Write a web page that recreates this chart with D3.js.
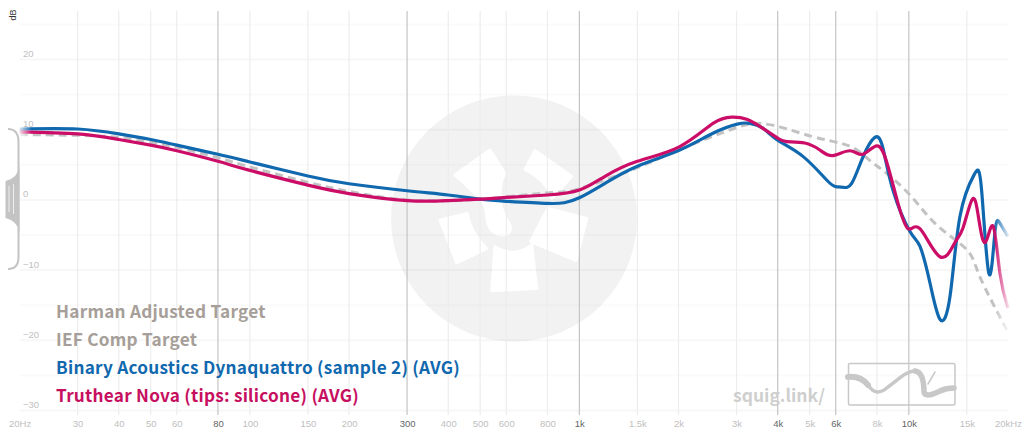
<!DOCTYPE html>
<html>
<head>
<meta charset="utf-8">
<script src="https://cdn.jsdelivr.net/npm/d3@7/dist/d3.min.js"></script>
<style>
  html, body { margin: 0; padding: 0; background: #fff; }
  svg { display: block; }
  text { font-family: "Liberation Sans", sans-serif; }
</style>
</head>
<body>
<div id="graph"></div>
<script>
// tick lists
var freqTicks = [20, 30, 40, 50, 60, 80, 100, 150, 200, 300, 400, 500, 600, 800, 1000, 1500, 2000, 3000, 4000, 5000, 6000, 8000, 10000, 15000, 20000];
var freqLabels = ['20Hz', '30', '40', '50', '60', '80', '100', '150', '200', '300', '400', '500', '600', '800', '1k', '1.5k', '2k', '3k', '4k', '5k', '6k', '8k', '10k', '15k', '20kHz'];
var strongFreqs = [80, 300, 1000, 4000, 6000, 10000];
var dbLabelTicks = [20, 10, 0, -10, -20, -30];
var dbGridTicks = [25, 20, 15, 10, 5, 0, -5, -10, -15, -20, -25, -30];

// legend
var legendNames = ['Harman Adjusted Target', 'IEF Comp Target', 'Binary Acoustics Dynaquattro (sample 2) (AVG)', 'Truthear Nova (tips: silicone) (AVG)'];
var legendColors = ['#a69e98', '#a69e98', '#1068af', '#c70f60'];

// curves
var targetFreq = [20, 30, 40, 50, 60, 80, 100, 150, 200, 300, 500, 800, 1000, 1500, 2000, 3000, 3530, 4060, 5120, 6180, 6960, 7620, 8343, 10079, 12170, 15000, 16450, 20000];
var targetDb = [9.3, 9.2, 8.9, 8.2, 7.5, 6.0, 4.7, 2.5, 1.2, 0.0, 0.1, 1.0, 1.6, 4.6, 7.1, 10.3, 10.9, 10.4, 9.0, 8.1, 7.1, 5.6, 4.2, 0.7, -3.6, -7.1, -11.0, -18.8];

var blueFreq = [20, 30, 40, 50, 60, 80, 100, 150, 200, 300, 400, 500, 600, 800, 900, 1000, 1200, 1500, 2017, 2544, 3014, 3294, 3608, 4000, 4770, 5640, 6000, 6304, 6716, 7255, 7889, 8343, 8949, 10079, 10805, 11590, 12430, 13330, 14290, 15790, 16630, 17500, 18250, 18900, 20000];
var blueDb = [10.1, 10.1, 9.4, 8.6, 7.8, 6.5, 5.4, 3.4, 2.3, 1.3, 0.7, 0.1, -0.2, -0.5, -0.4, 0.3, 2.4, 4.8, 7.1, 9.5, 10.8, 10.9, 10.2, 8.5, 6.2, 2.8, 1.9, 1.8, 2.4, 6.1, 8.9, 7.4, 1.4, -4.5, -6.6, -11.8, -17.0, -13.8, -2.4, 3.6, 1.4, -10.5, -4.7, -3.3, -5.2];

var pinkFreq = [20, 30, 40, 50, 60, 80, 100, 150, 200, 300, 400, 500, 600, 800, 1000, 1200, 1500, 2017, 2544, 2900, 3220, 3608, 4000, 4260, 4830, 5370, 5880, 6620, 7255, 8000, 8580, 9210, 9940, 10805, 12430, 13790, 14600, 15540, 16200, 17020, 18000, 18900, 20000];
var pinkDb = [9.7, 9.4, 8.6, 7.8, 7.0, 5.5, 4.2, 2.1, 0.9, -0.1, -0.1, 0.1, 0.35, 0.7, 1.4, 3.4, 5.5, 7.6, 10.9, 11.8, 11.5, 10.2, 8.8, 8.3, 8.1, 7.1, 6.3, 7.0, 6.5, 7.7, 5.3, 0.0, -4.1, -4.1, -8.1, -6.1, -4.0, 0.0, -1.9, -6.1, -3.7, -10.4, -15.4];

var width = 1028, height = 435;
var x = d3.scaleLog().domain([20, 20000]).range([19.6, 1008]);
var y = d3.scaleLinear().domain([-30, 20]).range([410.5, 59.5]);

var svg = d3.select('#graph').append('svg')
  .attr('width', width)
  .attr('height', height)
  .attr('viewBox', '0 0 ' + width + ' ' + height);

var defs = svg.append('defs');

// watermark circle goes under the grid
var wm = svg.append('g').attr('class', 'watermark').attr('transform', 'translate(514,218.5)');
wm.append('circle').attr('r', 123).attr('fill', '#f2f2f2');
var blades = [
  'M-59,-43.5 L-24,-68.5 L-9,-45 Q-14,-38 -14,-22 Q-14,-8 -4,6.5 Q-2,16 -11,16.5 Q-24,16 -27,1.5 Q-27,-10 -32,-18.5 Z',
  'M11,-49 L21,-68 L57.7,-42 L37.7,-20 Q33,-38 11,-49 Z',
  'M34,-10 L72.7,0 L62,42 L16.7,23 Q24,8 34,-10 Z',
  'M-19,28.3 Q0,40 17.7,26.7 L22.7,70 L-22.3,72.3 Z',
  'M-74,1.7 L-46.7,-5 Q-44,14 -27.3,30 L-57.3,44.3 Z'
];
wm.selectAll('path.blade').data(blades).enter().append('path')
  .attr('class', 'blade')
  .attr('d', d => d)
  .attr('fill', '#fff')
  .attr('stroke', '#fff')
  .attr('stroke-width', 3)
  .attr('stroke-linejoin', 'round');

// horizontal grid
svg.append('g').attr('class', 'grid-h')
  .selectAll('line').data(dbGridTicks).enter().append('line')
  .attr('x1', x(20)).attr('x2', x(20000))
  .attr('y1', d => y(d)).attr('y2', d => y(d))
  .attr('stroke', '#000')
  .attr('stroke-opacity', d => d % 10 === 0 ? 0.03 : 0.018)
  .attr('stroke-width', 2);

// vertical grid
var gridTop = 11, gridBottom = 415;
svg.append('g').attr('class', 'grid-v')
  .selectAll('line').data(freqTicks.slice(1, -1)).enter().append('line')
  .attr('x1', d => x(d)).attr('x2', d => x(d))
  .attr('y1', gridTop).attr('y2', gridBottom)
  .attr('stroke', d => strongFreqs.indexOf(d) >= 0 ? '#c4c4c4' : '#ededed')
  .attr('stroke-width', 1.2);

// axes
var xAxis = d3.axisBottom(x)
  .tickValues(freqTicks)
  .tickSize(0)
  .tickFormat((d, i) => freqLabels[i]);
var gx = svg.append('g').attr('transform', 'translate(0,417)').call(xAxis);
gx.select('.domain').remove();
gx.selectAll('text')
  .attr('font-size', 9.5)
  .style('font-family', '"Liberation Sans", sans-serif')
  .attr('fill', d => strongFreqs.indexOf(d) >= 0 ? '#666' : '#c0c0c0');

var yAxis = d3.axisLeft(y)
  .tickValues(dbLabelTicks)
  .tickSize(0)
  .tickFormat(d => d < 0 ? '\u2212' + Math.abs(d) : d);
var gy = svg.append('g').call(yAxis);
gy.select('.domain').remove();
gy.selectAll('text')
  .attr('text-anchor', 'start')
  .attr('x', 23)
  .attr('dy', '-3')
  .attr('font-size', 9.5)
  .style('font-family', '"Liberation Sans", sans-serif')
  .attr('fill', '#c0c0c0');

svg.append('text')
  .attr('transform', 'translate(16,15) rotate(-90)')
  .attr('text-anchor', 'middle')
  .attr('font-size', 9)
  .attr('fill', '#333')
  .text('dB');

// fade both ends of every curve
function fade(id, color) {
  var g = defs.append('linearGradient').attr('id', id)
    .attr('gradientUnits', 'userSpaceOnUse')
    .attr('x1', x(20)).attr('x2', x(20000)).attr('y1', 0).attr('y2', 0);
  var w = x(20000) - x(20);
  [[0, 0.15], [12 / w, 1], [1 - 14 / w, 1], [1, 0.15]].forEach(s => {
    g.append('stop').attr('offset', s[0]).attr('stop-color', color).attr('stop-opacity', s[1]);
  });
}
fade('fadeTarget', '#c2c2c2');
fade('fadeBlue', '#1068af');
fade('fadePink', '#cb0d68');

var line = d3.line().curve(d3.curveNatural);
function curve(freqs, dbs) {
  return line(freqs.map((f, i) => [x(f), y(dbs[i])]));
}

var curves = svg.append('g').attr('class', 'curves').attr('fill', 'none');
curves.append('path')
  .attr('d', curve(targetFreq, targetDb))
  .attr('stroke', 'url(#fadeTarget)')
  .attr('stroke-width', 3)
  .attr('stroke-dasharray', '8 5');
curves.append('path')
  .attr('d', curve(blueFreq, blueDb))
  .attr('stroke', 'url(#fadeBlue)')
  .attr('stroke-width', 3.2);
curves.append('path')
  .attr('d', curve(pinkFreq, pinkDb))
  .attr('stroke', 'url(#fadePink)')
  .attr('stroke-width', 3.2);

// legend
svg.append('g').attr('class', 'legend')
  .selectAll('text').data(legendNames).enter().append('text')
  .attr('x', 56)
  .attr('y', (d, i) => 317.5 + i * 28.2)
  .attr('font-size', 17.2)
  .attr('font-weight', 700)
  .attr('letter-spacing', 0.24)
  .style('font-family', '"Noto Sans CJK KR", "Noto Sans", sans-serif')
  .attr('fill', (d, i) => legendColors[i])
  .text(d => d);

// left side handle for the y axis
var handle = svg.append('g').attr('class', 'handle').attr('fill', 'none');
handle.append('path')
  .attr('d', 'M8,129 Q18.5,129 18.5,142 L18.5,257 Q18.5,269 8,269')
  .attr('stroke', '#c4c4c4')
  .attr('stroke-width', 2);
handle.append('path')
  .attr('d', 'M19.5,166 Q18,178 5.5,181 L5.5,218 Q18,221 19.5,233 Z')
  .attr('fill', '#c4c4c4');
handle.append('path')
  .attr('d', 'M9,186 L9,212 M13.5,184 L13.5,214')
  .attr('stroke', '#eee')
  .attr('stroke-width', 1);

// squig.link mark
svg.append('text')
  .attr('x', 733)
  .attr('y', 402)
  .attr('font-size', 17.5)
  .attr('font-weight', 700)
  .style('font-family', '"Noto Sans CJK KR", "Noto Sans", sans-serif')
  .attr('fill', '#cfcfcf')
  .text('squig.link/');

var logo = svg.append('g').attr('class', 'logo').attr('fill', 'none').attr('stroke', '#c8c8c8').attr('stroke-linecap', 'round');
logo.append('rect')
  .attr('x', 848.5).attr('y', 363.5).attr('width', 106.5).attr('height', 41.5).attr('rx', 1.5)
  .attr('stroke-width', 1.5);
logo.append('path').attr('d', 'M848,377 C858,376 864,380 868,385').attr('stroke-width', 6);
logo.append('path').attr('d', 'M868,385 C874,394 880,394 888,387 C898,380 906,371 915,371').attr('stroke-width', 3.5);
logo.append('path').attr('d', 'M915,371 C922,372 924,382 924,392 C925,397 932,395 940,391 C946,388 950,388 954,388').attr('stroke-width', 5.5);
logo.append('path').attr('d', 'M935,372 L928,384').attr('stroke-width', 1.5);
</script>
</body>
</html>
